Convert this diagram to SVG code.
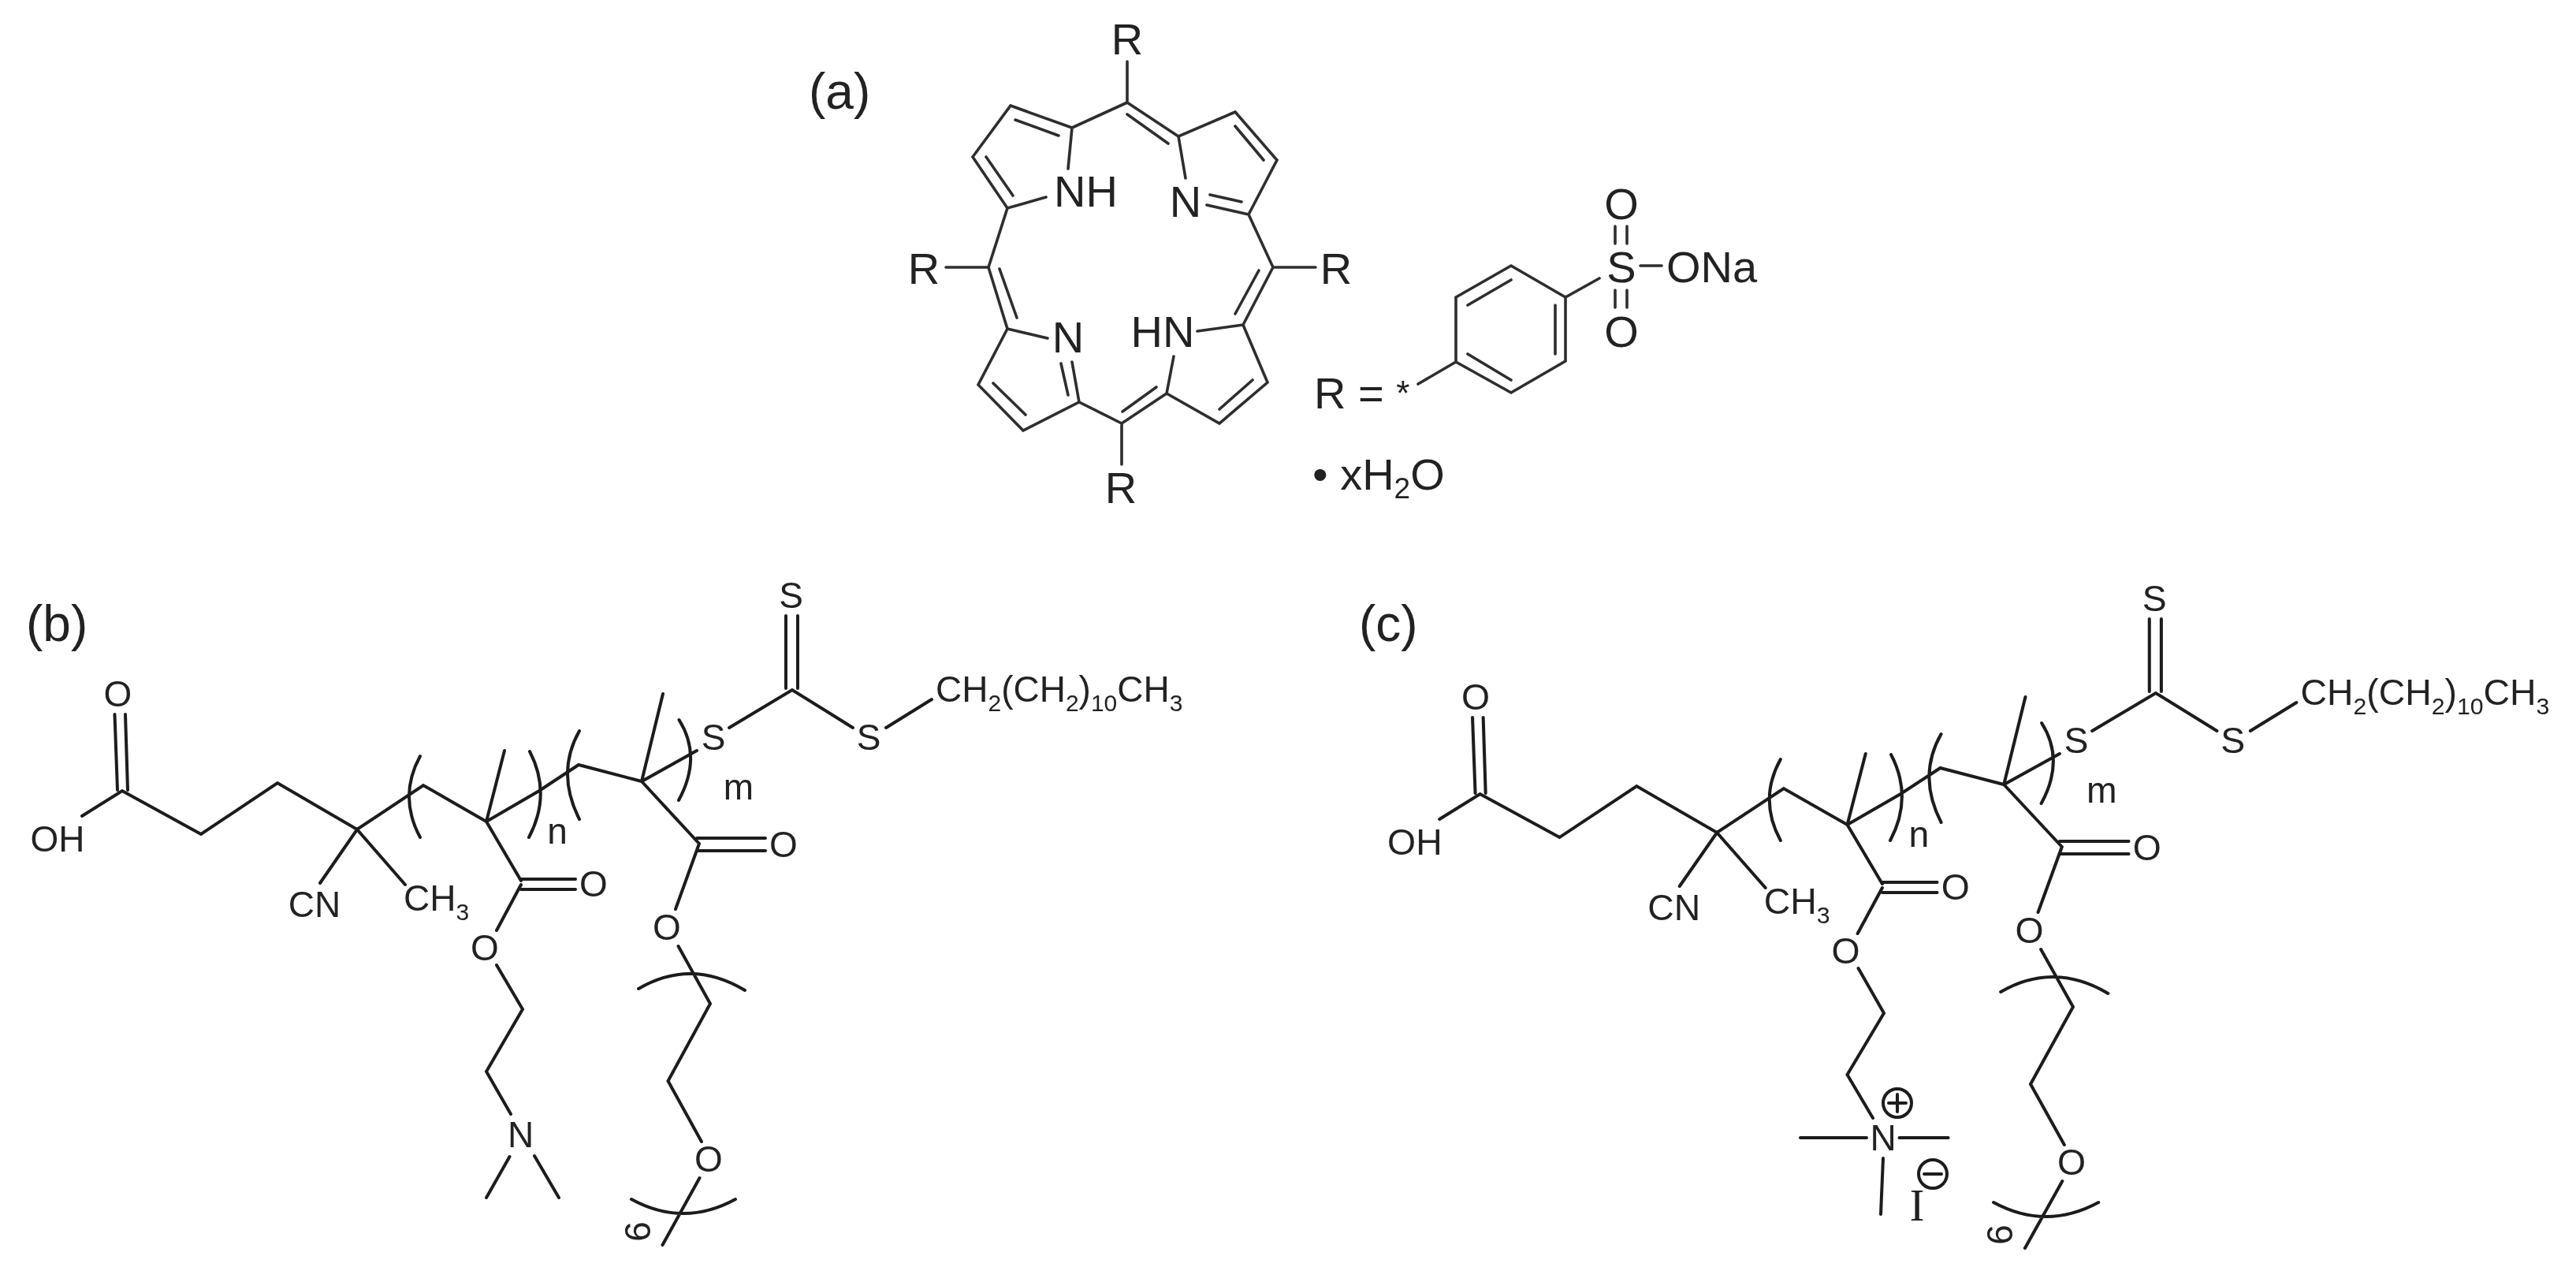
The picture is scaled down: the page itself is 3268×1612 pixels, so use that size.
<svg xmlns="http://www.w3.org/2000/svg" width="3268" height="1612" viewBox="0 0 3268 1612">
<style>
.b{fill:none;stroke:#1c1c1c;stroke-width:4;stroke-linecap:round;stroke-linejoin:miter}
.p{stroke:#2e2e2e;stroke-width:3.6}
text{font-family:"Liberation Sans",Arial,sans-serif;fill:#222}
.l{font-size:64px}
.a{font-size:56px}
.s{font-size:46px}
.sub{font-size:30px}
.sa{font-size:37px}
.m{text-anchor:middle}
</style>
<defs><filter id="soft" x="0" y="0" width="3268" height="1612" filterUnits="userSpaceOnUse"><feGaussianBlur stdDeviation="0.7"/></filter></defs>
<rect width="3268" height="1612" fill="#fff"/>
<g id="diagram" filter="url(#soft)">
<g id="porphyrin">
<text class="l" x="1026" y="138">(a)</text>
<path class="b p" d="M1430 78V130M1430 130L1360 162L1282 134L1234 199L1278 264L1327 250M1360 162L1355 214M1288 152L1343 172M1251 199L1285 248M1430 130L1495 173L1567 142L1620 203L1584 272L1531 260M1430 145L1482 182M1567 160L1603 203M1495 173L1504 226M1575 256L1535 247M1584 272L1615 339H1669M1278 264L1254 339H1200M1254 339L1278 417L1329 429M1268 341L1290 403M1615 339L1577 412M1597 343L1567 398M1278 417L1241 488L1298 546L1369 510L1423 537M1260 486L1301 526M1369 510L1360 459M1346 461L1355 501M1423 537L1480 499M1424 522L1467 491M1423 537V589M1480 499L1489 452M1577 412L1519 420M1577 412L1608 485L1547 537L1480 499M1589 482L1547 519"/>
<text class="a m" x="1430" y="69">R</text>
<text class="a" x="1337" y="262">NH</text>
<text class="a m" x="1504" y="275">N</text>
<text class="a m" x="1172" y="360">R</text>
<text class="a m" x="1695" y="360">R</text>
<text class="a m" x="1355" y="447">N</text>
<text class="a m" x="1475" y="440">HN</text>
<text class="a m" x="1422" y="638">R</text>
</g>
<g id="substituent">
<path class="b p" d="M1917 337L1986 377V458L1917 498L1847 459V377ZM1862 387L1917 355M1973 387V449M1862 449L1917 482M1847 459L1799 487M1986 377L2029 353M2049 287V309M2064 287V309M2049 368V390M2064 368V390M2081 337H2108"/>
<text class="a" x="1667" y="518">R = <tspan font-size="44px" dy="-4">*</tspan></text>
<text class="a m" x="2057" y="278">O</text>
<text class="a m" x="2057" y="358">S</text>
<text class="a m" x="2057" y="440">O</text>
<text class="a" x="2114" y="358">ONa</text>
<text class="a" x="1665" y="621">• xH<tspan class="sa" dy="11">2</tspan><tspan dy="-11">O</tspan></text>
</g>
<g id="polymer-b">
<text class="l" x="33" y="813">(b)</text>
<path class="b" d="M145.500 906L149 1002M159 906L162 1002M104 1035L155 1003L255 1058L352 993L453 1052L537 996L617 1042L684 1003L734 970L814 991L884 952M406 1120L453 1052L514 1122M617 1042L640 952M617 1042L661 1117M661 1115H730M661 1128H730M661 1122L630 1180M814 991L841 880M814 991L887 1070M884 1063H971M884 1079H971M887 1070L857 1153M997 781V873M1012 781V873M925 923L1005 875L1082 923M1124 923L1182 887M630 1224L663 1280L617 1359L648 1413M646.500 1467L617 1519M678 1466L709 1519M860.500 1200L901 1273L847.500 1371L890 1448M887.500 1494L840.500 1579M533 959Q505 1010 533 1062M672 953Q700 1007 671 1062M735 927Q705 980 735 1039M861.500 913Q891 960 861 1015M810 1254Q877 1215 945 1256M801 1521Q867 1557 933 1521"/>
<text class="s m" x="149.500" y="896">O</text>
<text class="s m" x="73" y="1080">OH</text>
<text class="s m" x="399" y="1163">CN</text>
<text class="s" x="512" y="1155">CH<tspan class="sub" dy="12">3</tspan></text>
<text class="s m" x="707" y="1070">n</text>
<text class="s m" x="937" y="1014">m</text>
<text class="s m" x="753" y="1137">O</text>
<text class="s m" x="615" y="1218">O</text>
<text class="s m" x="994" y="1087">O</text>
<text class="s m" x="846" y="1192">O</text>
<text class="s m" x="905" y="951">S</text>
<text class="s m" x="1003.500" y="771">S</text>
<text class="s m" x="1102" y="951">S</text>
<text class="s" x="1187" y="890">CH<tspan class="sub" dy="12">2</tspan><tspan dy="-12">(CH</tspan><tspan class="sub" dy="12">2</tspan><tspan dy="-12">)</tspan><tspan class="sub" dy="12">10</tspan><tspan dy="-12">CH</tspan><tspan class="sub" dy="12">3</tspan></text>
<text class="s m" x="660.500" y="1455">N</text>
<text class="s m" x="899" y="1486">O</text>
<text class="s m" transform="translate(808.600 1562) rotate(-90)" x="0" y="16">6</text>
</g>
<g id="polymer-c" transform="translate(1721.300 4) scale(1.0085 1)">
<path class="b" d="M145.500 906L149 1002M159 906L162 1002M104 1035L155 1003L255 1058L352 993L453 1052L537 996L617 1042L684 1003L734 970L814 991L884 952M406 1120L453 1052L514 1122M617 1042L640 952M617 1042L661 1117M661 1115H730M661 1128H730M661 1122L630 1180M814 991L841 880M814 991L887 1070M884 1063H971M884 1079H971M887 1070L857 1153M997 781V873M1012 781V873M925 923L1005 875L1082 923M1124 923L1182 887M860.500 1200L901 1273L847.500 1371L890 1448M887.500 1494L840.500 1579M533 959Q505 1010 533 1062M672 953Q700 1007 671 1062M735 927Q705 980 735 1039M861.500 913Q891 960 861 1015M810 1254Q877 1215 945 1256M801 1521Q867 1557 933 1521"/>
<text class="s m" x="149.500" y="896">O</text>
<text class="s m" x="73" y="1080">OH</text>
<text class="s m" x="399" y="1163">CN</text>
<text class="s" x="512" y="1155">CH<tspan class="sub" dy="12">3</tspan></text>
<text class="s m" x="707" y="1070">n</text>
<text class="s m" x="937" y="1014">m</text>
<text class="s m" x="753" y="1137">O</text>
<text class="s m" x="615" y="1218">O</text>
<text class="s m" x="994" y="1087">O</text>
<text class="s m" x="846" y="1192">O</text>
<text class="s m" x="905" y="951">S</text>
<text class="s m" x="1003.500" y="771">S</text>
<text class="s m" x="1102" y="951">S</text>
<text class="s" x="1187" y="890">CH<tspan class="sub" dy="12">2</tspan><tspan dy="-12">(CH</tspan><tspan class="sub" dy="12">2</tspan><tspan dy="-12">)</tspan><tspan class="sub" dy="12">10</tspan><tspan dy="-12">CH</tspan><tspan class="sub" dy="12">3</tspan></text>
<text class="s m" x="899" y="1486">O</text>
<text class="s m" transform="translate(808.600 1562) rotate(-90)" x="0" y="16">6</text>
</g>
<g id="polymer-c-cation">
<text class="l" x="1724" y="813">(c)</text>
<path class="b" d="M2357.500 1228L2390 1285L2343.500 1363L2376 1418M2284 1443H2368M2409.500 1443H2471.600M2389 1469L2386 1540M2396 1399H2418M2407 1388V1410M2441 1489H2463"/>
<circle class="b" cx="2407" cy="1399" r="18"/>
<circle class="b" cx="2452" cy="1489" r="18"/>
<text class="s m" x="2389" y="1459">N</text>
<text x="2432" y="1548" font-size="56" text-anchor="middle" style="font-family:'Liberation Serif',serif">I</text>
</g>
</g>
</svg>
